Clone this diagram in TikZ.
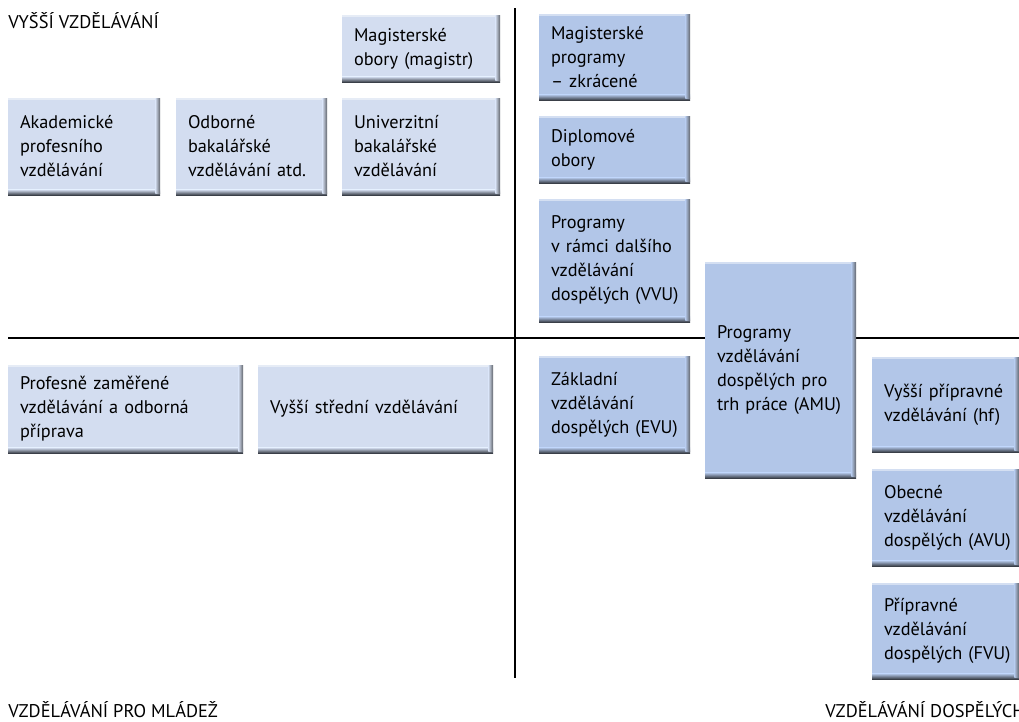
\documentclass[tikz,border=0pt]{standalone}
\usepackage{fontspec}
\setmainfont{PT Sans}
\definecolor{boxlight}{HTML}{D3DDF0}
\definecolor{boxdark}{HTML}{B2C6E8}
\definecolor{edgedark}{HTML}{3A3F48}
\tikzset{
  bevel/.style={fill=#1, path picture={
      \fill[white, opacity=0.45] (path picture bounding box.north west) rectangle ([yshift=-1.2pt]path picture bounding box.north east);
      \shade[top color=#1, bottom color=edgedark] ([yshift=4pt]path picture bounding box.south west) rectangle (path picture bounding box.south east);
      \shade[left color=#1, right color=edgedark!80] ([xshift=-3.5pt]path picture bounding box.north east) rectangle ([yshift=0.8pt]path picture bounding box.south east);
  }},
  bx/.style 2 args={draw=none, inner xsep=9pt, inner ysep=0pt, align=left,
      text width=#1-18pt, minimum width=#1, minimum height=#2,
      font=\fontsize{13.7}{18}\selectfont},
  lbox/.style={bevel=boxlight},
  dbox/.style={bevel=boxdark},
  axis/.style={line width=1.5pt, black},
  hdr/.style={font=\fontsize{13.8}{16}\selectfont, inner sep=0pt}
}
\begin{document}
\begin{tikzpicture}[x=0.75pt, y=-0.75pt]
\useasboundingbox (0,0) rectangle (1019,721);
% axes
\coordinate (vt) at (515,8);
\coordinate (vb) at (515,678);
\coordinate (hl) at (8,338);
\coordinate (hr) at (1022,338);
\draw[axis] (vt) -- (vb);
\draw[axis] (hl) -- (hr);
% headings
\node[hdr, anchor=base west] (hvyssi) at (8,28) {VYŠŠÍ VZDĚLÁVÁNÍ};
\node[hdr, anchor=base west] (hmladez) at (8,717) {VZDĚLÁVÁNÍ PRO MLÁDEŽ};
\node[hdr, anchor=base east] (hdosp) at (1025,717) {VZDĚLÁVÁNÍ DOSPĚLÝCH};
% higher education (light)
\node[bx={118.5pt}{50.25pt}, lbox] (magistr) at (421,48.5) {Magisterské\\obory~(magistr)};
\node[bx={114pt}{72.75pt}, lbox] (akad) at (84,146.5) {Akademické\\profesního\\vzdělávání};
\node[bx={113.25pt}{72.75pt}, lbox] (odb) at (251.5,146.5) {Odborné\\bakalářské\\vzdělávání~atd.};
\node[bx={118.5pt}{72.75pt}, lbox] (univ) at (421,146.5) {Univerzitní\\bakalářské\\vzdělávání};
% youth education (light)
\node[bx={176.25pt}{66pt}, lbox] (prof) at (125.5,409) {Profesně zaměřené\\vzdělávání a odborná\\příprava};
\node[bx={176.25pt}{66pt}, lbox] (vss) at (375.5,409) {Vyšší střední vzdělávání};
% adult education (dark)
\node[bx={113.25pt}{64.5pt}, dbox] (magprog) at (614.5,57) {Magisterské\\programy\\–~zkrácené};
\node[bx={113.25pt}{50.25pt}, dbox] (dipl) at (614.5,149.5) {Diplomové\\obory};
\node[bx={113.25pt}{92.25pt}, dbox] (vvu) at (614.5,260.5) {Programy\\v~rámci~dalšího\\vzdělávání\\dospělých~(VVU)};
\node[bx={113.25pt}{162pt}, dbox] (amu) at (780.5,370) {Programy\\vzdělávání\\dospělých~pro\\trh~práce~(AMU)};
\node[bx={113.25pt}{72.75pt}, dbox] (evu) at (614.5,404.5) {Základní\\vzdělávání\\dospělých~(EVU)};
\node[bx={110.25pt}{71.25pt}, dbox] (hf) at (945.5,404.5) {Vyšší~přípravné\\vzdělávání~(hf)};
\node[bx={110.25pt}{72.75pt}, dbox] (avu) at (945.5,517.5) {Obecné\\vzdělávání\\dospělých~(AVU)};
\node[bx={110.25pt}{72pt}, dbox] (fvu) at (945.5,631) {Přípravné\\vzdělávání\\dospělých~(FVU)};
\end{tikzpicture}
\end{document}
